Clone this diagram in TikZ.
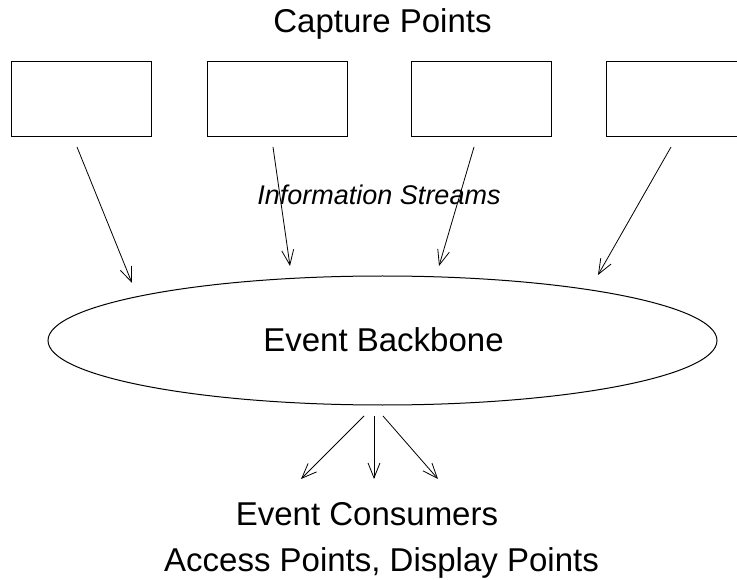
\documentclass[tikz,border=0pt]{standalone}
\usepackage{fontspec}
\setmainfont{Liberation Sans}
\usepackage{tikz}
\usetikzlibrary{shapes.geometric,arrows.meta}

\tikzset{
	capbox/.style={draw, line width=1pt, minimum width=140pt, minimum height=75pt, inner sep=0pt},
	stream/.style={line width=0.8pt, -{Straight Barb[length=15pt, width=12pt, line width=0.8pt]}},
	bigtext/.style={font=\fontsize{33}{40}\selectfont, anchor=base, inner sep=0pt}
}

\begin{document}
\begin{tikzpicture}[x=1pt, y=-1pt]
\useasboundingbox (0,0) rectangle (737,580);
\clip (0,0) rectangle (737,580);

\node[bigtext] (captitle) at (382.5,33) {Capture Points};

\foreach \x/\n in {81.5/1, 277/2, 481/3, 676/4}
	\node[capbox] (cap\n) at (\x, 99.5) {};

\node[bigtext, font=\fontsize{27}{32}\selectfont\itshape] (streams) at (379,205) {Information Streams};

\node[draw, ellipse, line width=1pt, minimum width=669pt, minimum height=129pt, inner sep=0pt,
	font=\fontsize{33}{40}\selectfont] (backbone) at (382.5,340.5) {};
\node[bigtext] (bbtext) at (383.5,352) {Event Backbone};

% stream arrows
\coordinate (s1) at (77,147);  \coordinate (e1) at (132,283);
\coordinate (s2) at (273,147); \coordinate (e2) at (290,266);
\coordinate (s3) at (474,147); \coordinate (e3) at (439,266);
\coordinate (s4) at (671,147); \coordinate (e4) at (598,275);
\foreach \n in {1,2,3,4}
	\draw[stream] (s\n) -- (e\n);

% consumer arrows
\coordinate (c1) at (364,416); \coordinate (d1) at (301,479);
\coordinate (c2) at (374,416); \coordinate (d2) at (374,479);
\coordinate (c3) at (383,416); \coordinate (d3) at (438,479);
\foreach \n in {1,2,3}
	\draw[stream] (c\n) -- (d\n);

\node[bigtext] (consumers) at (367,525) {Event Consumers};
\node[bigtext] (access) at (381.5,571) {Access Points, Display Points};

\end{tikzpicture}
\end{document}
